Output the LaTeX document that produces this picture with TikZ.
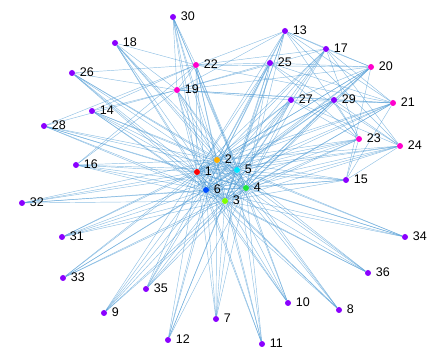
\documentclass[tikz,border=0pt]{standalone}
\usepackage{fontspec}
\setmainfont{Liberation Sans}
\usepackage{tikz}
\usetikzlibrary{backgrounds}
\definecolor{edgeblue}{RGB}{70,150,210}
\definecolor{hubpink}{RGB}{255,0,204}
\definecolor{leafviolet}{RGB}{138,0,255}
\definecolor{cred}{RGB}{255,0,0}
\definecolor{corange}{RGB}{255,176,0}
\definecolor{ccyan}{RGB}{0,230,255}
\definecolor{cgreen}{RGB}{30,230,60}
\definecolor{cblue}{RGB}{0,80,255}
\definecolor{clime}{RGB}{128,255,0}
\tikzset{
  vert/.style={circle,inner sep=0pt,minimum size=6pt},
  vlabel/.style={font=\fontsize{12.5}{12.5}\selectfont,inner sep=0pt,anchor=west},
  link/.style={draw=edgeblue,line width=0.45pt,opacity=0.6}
}

\begin{document}
\begin{tikzpicture}[x=1pt,y=-1pt]
  \useasboundingbox (0,0) rectangle (445,363);
  % vertices: name/x/y/colour
  \foreach \i/\x/\y/\c in {
      1/197/172/cred, 2/217/160/corange, 3/225/201/clime,
      4/246/188/cgreen, 5/237/170/ccyan, 6/206/190/cblue,
      7/216/319/leafviolet, 8/339/310/leafviolet, 9/104/313/leafviolet,
      10/288/303/leafviolet, 11/262/344/leafviolet, 12/168/340/leafviolet,
      13/285/31/leafviolet, 14/92/111/leafviolet, 15/346/180/leafviolet,
      16/76/165/leafviolet, 17/326/49/leafviolet, 18/115/43/leafviolet,
      19/177/90/hubpink, 20/371/67/hubpink, 21/393/103/hubpink,
      22/196/65/hubpink, 23/359/139/hubpink, 24/400/146/hubpink,
      25/270/63/leafviolet, 26/72/73/leafviolet, 27/291/100/leafviolet,
      28/44/126/leafviolet, 29/334/100/leafviolet, 30/173/17/leafviolet,
      31/62/237/leafviolet, 32/22/203/leafviolet, 33/63/278/leafviolet,
      34/405/237/leafviolet, 35/146/289/leafviolet, 36/368/273/leafviolet} {
    \node[vert,fill=\c] (n\i) at (\x,\y) {};
    \node[vlabel] (t\i) at ([xshift=4.5pt,yshift=1pt]n\i.east) {\i};
  }
  \begin{scope}[on background layer]
    % core to every outer vertex
    \foreach \a in {1,...,6}
      \foreach \b in {7,...,36}
        \draw[link] (n\a) -- (n\b);
    % core among itself
    \foreach \a/\b in {1/2,1/3,1/4,1/5,1/6,2/3,2/4,2/5,2/6,3/4,3/5,3/6,4/5,4/6,5/6}
      \draw[link] (n\a) -- (n\b);
    % left hubs
    \foreach \a in {19,22}
      \foreach \b in {13,14,16,17,18,25,26,28,30}
        \draw[link] (n\a) -- (n\b);
    % right hubs
    \foreach \a in {20,21,23,24}
      \foreach \b in {13,15,17,25,27,29}
        \draw[link] (n\a) -- (n\b);
    \foreach \a/\b in {19/20,19/21,19/27,19/29,22/20,22/21,13/17,19/22}
      \draw[link] (n\a) -- (n\b);
  \end{scope}
\end{tikzpicture}
\end{document}
